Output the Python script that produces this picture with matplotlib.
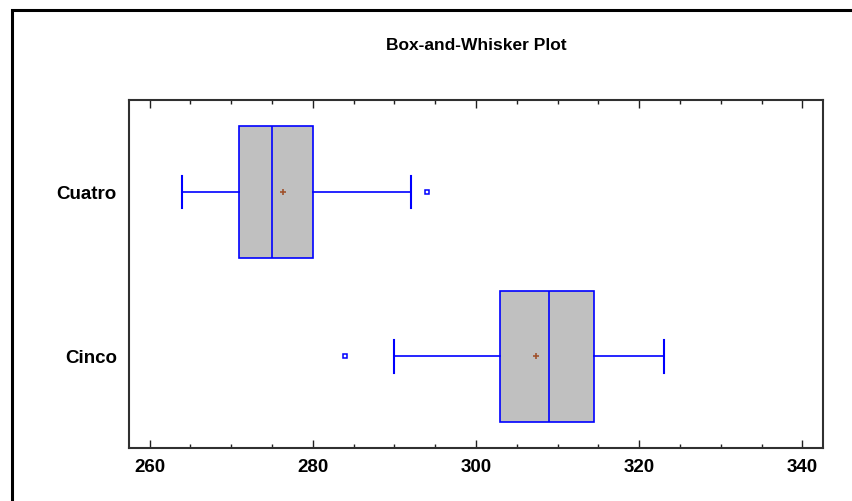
import numpy as np
import matplotlib.pyplot as plt
from matplotlib.ticker import MultipleLocator
from matplotlib.patches import Rectangle

plt.rcParams.update({'font.family': ['Liberation Sans', 'DejaVu Sans'],
                     'font.weight': 'bold'})

# summary stats
groups   = ['Cinco', 'Cuatro']
q1       = [303, 271]
med      = [309, 275]
q3       = [314.5, 280]
wlo      = [290, 264]
whi      = [323, 292]
means    = [307.4, 276.4]
outliers = [[284], [294]]

stats = []
for i, g in enumerate(groups):
  stats.append({'label': g, 'q1': q1[i], 'med': med[i], 'q3': q3[i],
                'whislo': wlo[i], 'whishi': whi[i], 'mean': means[i],
                'fliers': outliers[i]})

blue = '#0000ff'
fig = plt.figure(figsize=(8.53, 5.01), dpi=100)
ax = fig.add_axes([0.1516, 0.1052, 0.8129, 0.6952])

ax.bxp(stats, positions=[1, 2], vert=False, widths=0.8, capwidths=0.2,
       showmeans=True, patch_artist=True,
       boxprops=dict(facecolor='#c0c0c0', edgecolor=blue, lw=1.2),
       medianprops=dict(color=blue, lw=1.2),
       whiskerprops=dict(color=blue, lw=1.2),
       capprops=dict(color=blue, lw=1.5),
       flierprops=dict(marker='s', markersize=3.3, markerfacecolor='white',
                       markeredgecolor=blue, markeredgewidth=1.1),
       meanprops=dict(marker='+', markersize=5, markeredgecolor='#a0522d',
                      markeredgewidth=1.2))

ax.set_xlim(257.5, 342.5)
ax.set_ylim(0.44, 2.56)
ax.xaxis.set_major_locator(MultipleLocator(20))
ax.xaxis.set_minor_locator(MultipleLocator(5))
ax.tick_params(axis='x', which='both', direction='in', top=True, bottom=True,
               labelsize=13.5, pad=8, color='#202020')
ax.tick_params(axis='x', which='major', length=6, width=1)
ax.tick_params(axis='x', which='minor', length=3, width=1)
ax.tick_params(axis='y', length=0, labelsize=13.5, pad=9)
for lab in ax.get_xticklabels() + ax.get_yticklabels():
  lab.set_fontweight('bold')
for s in ax.spines.values():
  s.set_color('#303030')
  s.set_linewidth(1.5)

fig.text(0.558, 0.91, 'Box-and-Whisker Plot', ha='center', va='center',
         fontsize=12.5, fontweight='bold')

# outer frame, cut off at right and bottom
fig.patches.append(Rectangle((12/853, -0.1), 1.2, 1.0 - 10/501 + 0.1,
                             transform=fig.transFigure, fill=False,
                             edgecolor='black', lw=2.2))

fig.savefig('out.png', dpi=100)
